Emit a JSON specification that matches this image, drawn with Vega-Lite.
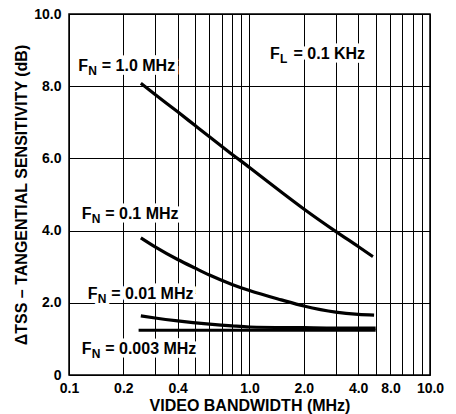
{
  "$schema": "https://vega.github.io/schema/vega-lite/v6.json",
  "width": 361,
  "height": 361,
  "autosize": {"type": "none"},
  "padding": {"left": 69, "top": 14, "right": 26, "bottom": 39},
  "config": {
    "view": {"stroke": "black", "strokeWidth": 1.5},
    "font": "Liberation Sans",
    "axis": {
      "domain": false,
      "ticks": false,
      "grid": true,
      "gridColor": "black",
      "gridOpacity": 1,
      "gridWidth": 1,
      "labelFont": "Liberation Sans",
      "labelFontWeight": "bold",
      "labelFontSize": 14,
      "labelColor": "black",
      "titleFont": "Liberation Sans",
      "titleFontWeight": "bold",
      "titleFontSize": 16,
      "titleColor": "black"
    }
  },
  "datasets": {
    "curves": [
      {"series": "1.0", "x": 0.25, "y": 8.08},
      {"series": "1.0", "x": 0.3, "y": 7.77},
      {"series": "1.0", "x": 0.4, "y": 7.29},
      {"series": "1.0", "x": 0.5, "y": 6.91},
      {"series": "1.0", "x": 0.6, "y": 6.6},
      {"series": "1.0", "x": 0.76, "y": 6.2},
      {"series": "1.0", "x": 1.0, "y": 5.75},
      {"series": "1.0", "x": 1.5, "y": 5.07},
      {"series": "1.0", "x": 2.0, "y": 4.6},
      {"series": "1.0", "x": 3.0, "y": 3.98},
      {"series": "1.0", "x": 4.0, "y": 3.56},
      {"series": "1.0", "x": 4.83, "y": 3.28},
      {"series": "0.1", "x": 0.25, "y": 3.8},
      {"series": "0.1", "x": 0.3, "y": 3.55},
      {"series": "0.1", "x": 0.4, "y": 3.2},
      {"series": "0.1", "x": 0.5, "y": 2.96},
      {"series": "0.1", "x": 0.6, "y": 2.77},
      {"series": "0.1", "x": 0.8, "y": 2.51},
      {"series": "0.1", "x": 1.0, "y": 2.34},
      {"series": "0.1", "x": 1.5, "y": 2.08},
      {"series": "0.1", "x": 2.0, "y": 1.91},
      {"series": "0.1", "x": 3.0, "y": 1.74},
      {"series": "0.1", "x": 4.0, "y": 1.68},
      {"series": "0.1", "x": 4.9, "y": 1.66},
      {"series": "0.01", "x": 0.25, "y": 1.64},
      {"series": "0.01", "x": 0.3, "y": 1.58},
      {"series": "0.01", "x": 0.4, "y": 1.5},
      {"series": "0.01", "x": 0.6, "y": 1.41},
      {"series": "0.01", "x": 0.8, "y": 1.36},
      {"series": "0.01", "x": 1.0, "y": 1.33},
      {"series": "0.01", "x": 2.0, "y": 1.31},
      {"series": "0.01", "x": 3.0, "y": 1.3},
      {"series": "0.01", "x": 5.0, "y": 1.3},
      {"series": "0.003", "x": 0.243, "y": 1.24},
      {"series": "0.003", "x": 5.0, "y": 1.24}
    ],
    "labels": [
      {"x": 0.1126, "y": 8.42, "sub": "N", "rest": "= 1.0 MHz"},
      {"x": 1.299, "y": 8.75, "sub": "L", "rest": "= 0.1 KHz"},
      {"x": 0.1176, "y": 4.33, "sub": "N", "rest": "= 0.1 MHz"},
      {"x": 0.1269, "y": 2.11, "sub": "N", "rest": "= 0.01 MHz"},
      {"x": 0.1176, "y": 0.58, "sub": "N", "rest": "= 0.003 MHz"}
    ]
  },
  "encoding": {
    "x": {
      "field": "x",
      "type": "quantitative",
      "scale": {"type": "log", "domain": [0.1, 10], "nice": false},
      "axis": {
        "title": "VIDEO BANDWIDTH (MHz)",
        "values": [0.1, 0.2, 0.3, 0.4, 0.5, 0.6, 0.7, 0.8, 0.9, 1, 2, 3, 4, 5, 6, 7, 8, 9, 10],
        "labelExpr": "indexof([0.1, 0.2, 0.4, 1, 2, 4, 8, 10], datum.value) >= 0 ? format(datum.value, '.1f') : ''",
        "labelOffset": {"condition": {"test": "datum.value == 8", "value": -22}, "value": 0},
        "labelPadding": 6,
        "titlePadding": 2,
        "labelFlush": false,
        "labelOverlap": false
      }
    },
    "y": {
      "field": "y",
      "type": "quantitative",
      "scale": {"domain": [0, 10], "nice": false},
      "axis": {
        "title": "\u0394TSS \u2013 TANGENTIAL SENSITIVITY (dB)",
        "values": [0, 2, 4, 6, 8, 10],
        "labelExpr": "datum.value == 0 ? '0' : format(datum.value, '.1f')",
        "labelPadding": 8,
        "titlePadding": 4,
        "labelFlush": false
      }
    }
  },
  "layer": [
    {
      "data": {"name": "curves"},
      "mark": {"type": "line", "color": "black", "strokeWidth": 3.2, "interpolate": "monotone"},
      "encoding": {"detail": {"field": "series", "type": "nominal"}}
    },
    {
      "data": {"name": "labels"},
      "mark": {"type": "text", "align": "left", "baseline": "alphabetic", "fontSize": 16, "fontWeight": "bold", "stroke": "white", "strokeWidth": 7, "text": "F"},
      "encoding": {}
    },
    {
      "data": {"name": "labels"},
      "mark": {"type": "text", "align": "left", "baseline": "alphabetic", "fontSize": 12, "fontWeight": "bold", "stroke": "white", "strokeWidth": 7, "dx": 10, "dy": 4},
      "encoding": {"text": {"field": "sub"}}
    },
    {
      "data": {"name": "labels"},
      "mark": {"type": "text", "align": "left", "baseline": "alphabetic", "fontSize": 16, "fontWeight": "bold", "stroke": "white", "strokeWidth": 7, "dx": 23.5},
      "encoding": {"text": {"field": "rest"}}
    },
    {
      "data": {"name": "labels"},
      "mark": {"type": "text", "align": "left", "baseline": "alphabetic", "fontSize": 16, "fontWeight": "bold", "color": "black", "text": "F"},
      "encoding": {}
    },
    {
      "data": {"name": "labels"},
      "mark": {"type": "text", "align": "left", "baseline": "alphabetic", "fontSize": 12, "fontWeight": "bold", "color": "black", "dx": 10, "dy": 4},
      "encoding": {"text": {"field": "sub"}}
    },
    {
      "data": {"name": "labels"},
      "mark": {"type": "text", "align": "left", "baseline": "alphabetic", "fontSize": 16, "fontWeight": "bold", "color": "black", "dx": 23.5},
      "encoding": {"text": {"field": "rest"}}
    }
  ]
}
